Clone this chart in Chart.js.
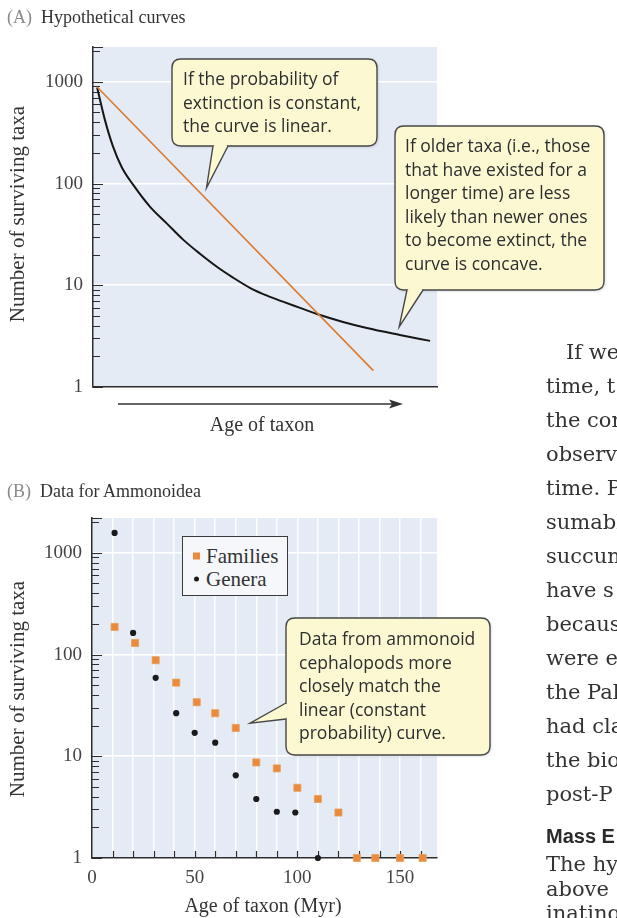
<!DOCTYPE html>
<html>
<head>
<meta charset="utf-8">
<script src="https://cdn.jsdelivr.net/npm/chart.js@4.4.1/dist/chart.umd.min.js"></script>
<style>
  html, body { margin: 0; padding: 0; background: #fff; }
  #page { position: relative; width: 617px; height: 918px; overflow: hidden;
          font-family: "Liberation Serif", "Times New Roman", serif; color: #2a2a2a; }
  .t { position: absolute; white-space: nowrap; transform: translateY(-50%); line-height: 1; }
  .panel-title { font-size: 18px; color: #333; }
  .panel-title .tag { color: #8a8a8a; }
  .ytitle { position: absolute; white-space: nowrap; font-size: 21px; color: #333;
            transform: translate(-50%, -50%) rotate(-90deg); line-height: 1; }
  .xtitle { position: absolute; white-space: nowrap; font-size: 20px; color: #333;
            transform: translate(-50%, -50%); line-height: 1; }
  .note { position: absolute; font-family: "Open Sans", "Noto Sans", sans-serif; font-size: 17.5px;
          line-height: 23.5px; color: #2e2e2e; white-space: nowrap; }
  .body-text { position: absolute; left: 0; top: 0; width: 617px; height: 918px; }
  .body-text div { position: absolute; white-space: nowrap; font-family: "DejaVu Serif", serif;
                   font-size: 21px; color: #333; transform: translateY(-50%); line-height: 1; }
  .body-text .head { font-family: "Liberation Sans", Arial, sans-serif; font-weight: bold; font-size: 20px; color: #2a2a2a; }
  #legendB { position: absolute; left: 182px; top: 536px; width: 106px; height: 60px;
             border: 1.3px solid #3a3a3a; background: #f5f7fb; box-sizing: border-box; }
  #legendB .row { position: absolute; left: 10px; font-size: 21px; color: #333; line-height: 1;
                  transform: translateY(-50%); white-space: nowrap; }
  #legendB .mk { display: inline-block; vertical-align: middle; margin-right: 6px; position: relative; top: -2px; }
  canvas { position: absolute; left: 0; }
</style>
</head>
<body>
<div id="page">
  <canvas id="chartA" width="617" height="440" style="top:0"></canvas>
  <canvas id="chartB" width="617" height="478" style="top:440px"></canvas>

  <div class="t panel-title" style="left:7px; top:17px"><span class="tag">(A)</span>&nbsp; Hypothetical curves</div>
  <div class="ytitle" style="left:17px; top:214px">Number of surviving taxa</div>
  <div class="xtitle" style="left:262px; top:424px">Age of taxon</div>
  <svg style="position:absolute; left:0; top:0" width="617" height="440">
    <line x1="118" y1="404" x2="396" y2="404" stroke="#333" stroke-width="1.4"/>
    <path d="M403 404 L389 399.5 L392 404 L389 408.5 Z" fill="#333"/>
  </svg>

  <div class="note" style="left:183px; top:67px">If the probability of<br>extinction is constant,<br>the curve is linear.</div>
  <div class="note" style="left:405px; top:134px">If older taxa (i.e., those<br>that have existed for a<br>longer time) are less<br>likely than newer ones<br>to become extinct, the<br>curve is concave.</div>

  <div class="t panel-title" style="left:7px; top:491px"><span class="tag">(B)</span>&nbsp; Data for Ammonoidea</div>
  <div class="ytitle" style="left:17px; top:689px">Number of surviving taxa</div>
  <div class="xtitle" style="left:263px; top:905px">Age of taxon (Myr)</div>
  <div id="legendB"></div>
  <div class="note" style="left:299px; top:627px">Data from ammonoid<br>cephalopods more<br>closely match the<br>linear (constant<br>probability) curve.</div>

  <div class="body-text">
    <div style="left:566px; top:352px">If we</div>
    <div style="left:546px; top:386px">time, t</div>
    <div style="left:546px; top:420px">the con</div>
    <div style="left:546px; top:454px">observ</div>
    <div style="left:546px; top:488px">time. P</div>
    <div style="left:546px; top:522px">sumabl</div>
    <div style="left:546px; top:556px">succum</div>
    <div style="left:546px; top:590px">have s</div>
    <div style="left:546px; top:624px">because</div>
    <div style="left:546px; top:658px">were e</div>
    <div style="left:546px; top:692px">the Pal</div>
    <div style="left:546px; top:726px">had cla</div>
    <div style="left:546px; top:760px">the bio</div>
    <div style="left:546px; top:794px">post-P</div>
    <div class="head" style="left:546px; top:836px">Mass E</div>
    <div style="left:546px; top:864px">The hy</div>
    <div style="left:546px; top:889px">above</div>
    <div style="left:546px; top:913px">inating</div>
  </div>
</div>

<script>
// ---- Panel A: hypothetical survivorship curves (age in arbitrary units) ----
const hypoAgeConcave  = [1.2, 3.5, 5.8, 8.4, 11.6, 16.6, 21.5, 26.2, 31.1, 36, 40.7, 45.6, 50.6, 55.2, 60.2, 66, 72.7, 79.6, 89.2, 98];
const hypoTaxaConcave = [880, 418, 232, 144, 98, 59, 40.4, 28.1, 20.4, 15.2, 11.9, 9.45, 7.9, 6.9, 6.0, 5.1, 4.36, 3.8, 3.25, 2.84];
const hypoAgeLinear   = [1.2, 81.5];
const hypoTaxaLinear  = [890, 1.45];

// ---- Panel B: Ammonoidea, surviving taxa by age (Myr) ----
const familyAge   = [11, 21, 31, 41, 51, 60, 70, 80, 90, 100, 110, 120, 129, 138, 150, 161];
const familyTaxa  = [187, 130, 88, 53, 34, 26.5, 19, 8.7, 7.6, 4.9, 3.8, 2.8, 1, 1, 1, 1];
const genusAge    = [11, 20, 31, 41, 50, 60, 70, 80, 90, 99, 110];
const genusTaxa   = [1570, 163, 59, 26.5, 17, 13.6, 6.5, 3.8, 2.85, 2.8, 1];
const seriesNames = ['Families', 'Genera'];

// ---- axis ticks ----
const logTickLabels = [1, 10, 100, 1000];
const ageTickLabels = [0, 50, 100, 150];
const ageTickStep   = 10;
const ageTickMax    = 160;

const pts = (xs, ys) => xs.map((x, i) => ({ x, y: ys[i] }));

// minor log ticks 1..9 within each decade
function logTicks(max) {
  const out = [];
  for (const d of logTickLabels) for (let m = 1; m <= 9; m++) if (d * m <= max) out.push({ value: d * m });
  return out;
}

const INK = '#2d2d2d';
const PANEL_BG = '#e4ebf5';
const axisFont = { family: '"Liberation Serif", "Times New Roman", serif', size: 19 };

// plot background, inward tick marks and speech-bubble callouts
const decor = {
  id: 'decor',
  beforeDraw(chart, _a, o) {
    const { ctx, chartArea: a } = chart;
    ctx.save();
    ctx.fillStyle = o.background;
    ctx.fillRect(a.left, a.top, a.right - a.left, a.bottom - a.top);
    ctx.restore();
  },
  beforeDatasetsDraw(chart, _a, o) {
    const { ctx, chartArea: a, scales: { x, y } } = chart;
    ctx.save();
    ctx.strokeStyle = INK;
    ctx.lineWidth = 1.2;
    ctx.beginPath();
    y.ticks.forEach(t => {
      const py = Math.round(y.getPixelForValue(t.value)) + 0.5;
      const len = logTickLabels.includes(t.value) ? o.major : o.minor;
      ctx.moveTo(a.left, py); ctx.lineTo(a.left + len, py);
    });
    ctx.moveTo(a.left, a.top + 0.5); ctx.lineTo(a.left + o.major, a.top + 0.5);
    if (o.xTicks) {
      x.ticks.forEach(t => {
        if (t.value === 0) return;
        const px = Math.round(x.getPixelForValue(t.value)) + 0.5;
        ctx.moveTo(px, a.bottom); ctx.lineTo(px, a.bottom - o.minor);
      });
    }
    ctx.stroke();
    ctx.restore();
  },
  afterDraw(chart, _a, o) {
    const { ctx, scales: { x, y } } = chart;
    (o.callouts || []).forEach(c => {
      const tx = x.getPixelForValue(c.tip[0]);
      const ty = y.getPixelForValue(c.tip[1]);
      const [x0, y0, x1, y1] = c.box, r = 9;
      const [b0, b1] = c.base;
      ctx.save();
      ctx.fillStyle = '#fbf8d2';
      ctx.strokeStyle = '#474747';
      ctx.lineWidth = 1.4;
      ctx.shadowColor = 'rgba(0,0,0,0.18)';
      ctx.shadowBlur = 3; ctx.shadowOffsetX = 1; ctx.shadowOffsetY = 1;
      ctx.beginPath();
      ctx.moveTo(x0 + r, y0);
      ctx.lineTo(x1 - r, y0); ctx.quadraticCurveTo(x1, y0, x1, y0 + r);
      ctx.lineTo(x1, y1 - r); ctx.quadraticCurveTo(x1, y1, x1 - r, y1);
      ctx.lineTo(x0 + r, y1); ctx.quadraticCurveTo(x0, y1, x0, y1 - r);
      ctx.lineTo(x0, y0 + r); ctx.quadraticCurveTo(x0, y0, x0 + r, y0);
      ctx.closePath();
      ctx.fill();
      ctx.shadowColor = 'transparent';
      ctx.stroke();
      // pointer
      ctx.beginPath();
      ctx.moveTo(b0[0], b0[1]); ctx.lineTo(tx, ty); ctx.lineTo(b1[0], b1[1]); ctx.closePath();
      ctx.fill();
      ctx.beginPath();
      ctx.moveTo(b0[0], b0[1]); ctx.lineTo(tx, ty); ctx.lineTo(b1[0], b1[1]);
      ctx.stroke();
      // open the bubble edge where the pointer joins
      ctx.strokeStyle = '#fbf8d2';
      ctx.lineWidth = 2.4;
      ctx.beginPath();
      const dx = b1[0] - b0[0], dy = b1[1] - b0[1], L = Math.hypot(dx, dy);
      ctx.moveTo(b0[0] + dx / L * 1.2, b0[1] + dy / L * 1.2);
      ctx.lineTo(b1[0] - dx / L * 1.2, b1[1] - dy / L * 1.2);
      ctx.stroke();
      ctx.restore();
    });
  }
};

function logAxis(width, max) {
  return {
    type: 'logarithmic', min: 1, max,
    afterBuildTicks: s => { s.ticks = logTicks(max); },
    afterFit: s => { s.width = width; },
    ticks: {
      autoSkip: false, padding: 10, color: '#444', font: axisFont,
      callback: v => logTickLabels.includes(v) ? String(v) : ''
    },
    grid: {
      drawTicks: false, lineWidth: 1.6,
      color: c => (c.tick && c.tick.value > 1 && logTickLabels.includes(c.tick.value)) ? '#ffffff' : 'rgba(0,0,0,0)'
    },
    border: { color: INK, width: 1.5 }
  };
}

// ---------- Panel A ----------
new Chart(document.getElementById('chartA'), {
  type: 'line',
  data: {
    datasets: [
      { label: 'constant', data: pts(hypoAgeLinear, hypoTaxaLinear),
        borderColor: '#dc7a2e', borderWidth: 1.6, pointRadius: 0, tension: 0 },
      { label: 'concave', data: pts(hypoAgeConcave, hypoTaxaConcave),
        borderColor: '#161616', borderWidth: 2, pointRadius: 0, cubicInterpolationMode: 'monotone' }
    ]
  },
  options: {
    responsive: false, animation: false, events: [],
    layout: { padding: { top: 47, right: 180, bottom: 53, left: 0 } },
    plugins: {
      legend: { display: false }, tooltip: { enabled: false },
      decor: {
        background: PANEL_BG, major: 10, minor: 7, xTicks: false,
        callouts: [
          { box: [172, 59, 377, 146], base: [[213, 146], [228, 146]], tip: [33, 91] },
          { box: [395, 126, 604, 290], base: [[407, 290], [423, 290]], tip: [89, 3.9] }
        ]
      }
    },
    scales: {
      x: {
        type: 'linear', min: 0, max: 100,
        afterFit: s => { s.height = 0; },
        ticks: { display: false },
        grid: { display: false },
        border: { color: INK, width: 1.5 }
      },
      y: logAxis(93, 2200)
    }
  },
  plugins: [decor]
});

// ---------- Panel B ----------
const chartB = new Chart(document.getElementById('chartB'), {
  type: 'scatter',
  data: {
    datasets: [
      { label: seriesNames[0], data: pts(familyAge, familyTaxa), clip: false,
        pointStyle: 'rect', pointRadius: 5, backgroundColor: '#ea8a3c', borderColor: '#e9a05a', borderWidth: 0.8 },
      { label: seriesNames[1], data: pts(genusAge, genusTaxa), clip: false,
        pointStyle: 'circle', pointRadius: 3.1, backgroundColor: '#1b1b1b', borderColor: '#1b1b1b', borderWidth: 0 }
    ]
  },
  options: {
    responsive: false, animation: false, events: [],
    layout: { padding: { top: 78, right: 180, bottom: 0, left: 0 } },
    plugins: {
      legend: { display: false }, tooltip: { enabled: false },
      decor: {
        background: PANEL_BG, major: 10, minor: 7, xTicks: true,
        callouts: [
          { box: [286, 178, 490, 315], base: [[286, 263], [286, 279]], tip: [77, 21.2] }
        ]
      }
    },
    scales: {
      x: {
        type: 'linear', min: 0, max: 168,
        afterBuildTicks: s => {
          const t = [];
          for (let v = 0; v <= ageTickMax; v += ageTickStep) t.push({ value: v });
          s.ticks = t;
        },
        afterFit: s => { s.height = 60; },
        ticks: {
          autoSkip: false, maxRotation: 0, padding: 9, color: '#444', font: axisFont,
          callback: v => ageTickLabels.includes(v) ? String(v) : ''
        },
        grid: {
          drawTicks: false, lineWidth: 1.5,
          color: c => (c.tick && c.tick.value > 0) ? 'rgba(255,255,255,0.9)' : 'rgba(0,0,0,0)'
        },
        border: { color: INK, width: 1.5 }
      },
      y: logAxis(92, 2200)
    }
  },
  plugins: [decor]
});

// legend for panel B, built from the chart's own datasets
(function buildLegend() {
  const box = document.getElementById('legendB');
  chartB.data.datasets.forEach((ds, i) => {
    const row = document.createElement('div');
    row.className = 'row';
    row.style.top = (i === 0 ? 19 : 42) + 'px';
    const mk = document.createElement('span');
    mk.className = 'mk';
    if (ds.pointStyle === 'rect') {
      mk.style.cssText += 'width:7px;height:7px;background:' + ds.backgroundColor + ';';
    } else {
      mk.style.cssText += 'width:5px;height:5px;border-radius:50%;background:' + ds.backgroundColor + ';margin-left:1px;margin-right:7px;';
    }
    row.appendChild(mk);
    row.appendChild(document.createTextNode(ds.label));
    box.appendChild(row);
  });
})();
</script>
</body>
</html>
